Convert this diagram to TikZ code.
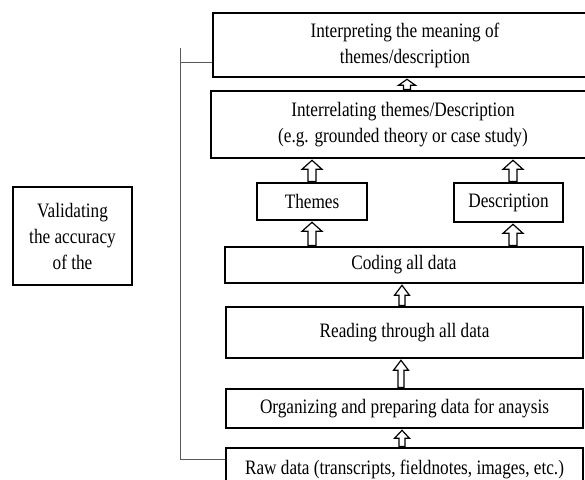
\documentclass[tikz,border=0pt]{standalone}
\usepackage{fontspec}
\setmainfont[FakeStretch=0.84]{Liberation Serif}
\usetikzlibrary{calc}
\tikzset{
  box/.style={draw=black, line width=1.6pt, fill=white, inner sep=0pt, align=center,
    font=\fontsize{20.5}{26}\selectfont},
  vbox/.style={box, line width=1.3pt},
  bracket/.style={draw=black!65, line width=1pt},
  barrow/.style={draw=black, line width=1.2pt, fill=white, line join=miter}
}
\newcommand{\blkarrow}[6]{%
  \draw[barrow] let \p1=(#2.north), \p2=(#3.south) in
    ({#1pt-#4pt},{\y1+0.8pt}) -- ({#1pt-#4pt},{\y2-#6pt-1.5pt}) --
    ({#1pt-#5pt},{\y2-#6pt-1.5pt}) -- ({#1pt},{\y2-1.5pt}) --
    ({#1pt+#5pt},{\y2-#6pt-1.5pt}) -- ({#1pt+#4pt},{\y2-#6pt-1.5pt}) --
    ({#1pt+#4pt},{\y1+0.8pt}) -- cycle;}
\begin{document}
\begin{tikzpicture}[x=1pt,y=-1pt]
\clip (0,0) rectangle (585,479);
\fill[white] (0,0) rectangle (585,479);

% bracket
\coordinate (b1) at (180,48);
\coordinate (b2) at (180,459);
\coordinate (b3) at (180,62);

\node[box, minimum width=384pt, minimum height=64pt] (top) at (405,45)
  {Interpreting the meaning of\\themes/description};
\node[box, minimum width=384pt, minimum height=67pt] (inter) at (403,124.5)
  {Interrelating themes/Description\\(e.g. grounded theory or case study)};
\node[box, minimum width=110pt, minimum height=37pt] (themes) at (312,201.5) {Themes};
\node[box, minimum width=109pt, minimum height=39pt] (desc) at (508.5,202.5) {Description};
\node[box, minimum width=358pt, minimum height=36pt] (coding) at (404,265) {Coding all data};
\node[box, minimum width=357pt, minimum height=51pt] (reading) at (404.5,332.5) {Reading through all data};
\node[box, minimum width=357pt, minimum height=39pt] (org) at (404.5,408.5)
  {Organizing and preparing data for anaysis};
\node[box, minimum width=357pt, minimum height=42pt] (raw) at (404.5,469)
  {Raw data (transcripts, fieldnotes, images, etc.)};
\node[vbox, minimum width=119pt, minimum height=98pt] (valid) at (72.5,236)
  {Validating\\the accuracy\\of the};

\draw[bracket] (b1) -- (b2) -- (b2 -| raw.west);
\draw[bracket] (b3) -- (b3 -| top.west);

% block arrows
\blkarrow{407}{inter}{top}{3.5}{8.5}{6}
\blkarrow{312}{themes}{inter}{4}{10}{9}
\blkarrow{513}{desc}{inter}{4}{10}{9}
\blkarrow{312}{coding}{themes}{4}{10}{9}
\blkarrow{513}{coding}{desc}{4}{10}{9}
\blkarrow{402}{reading}{coding}{3}{7.5}{10}
\blkarrow{401}{org}{reading}{3}{7.5}{10}
\blkarrow{402}{raw}{org}{3}{7.5}{8}
\end{tikzpicture}
\end{document}
